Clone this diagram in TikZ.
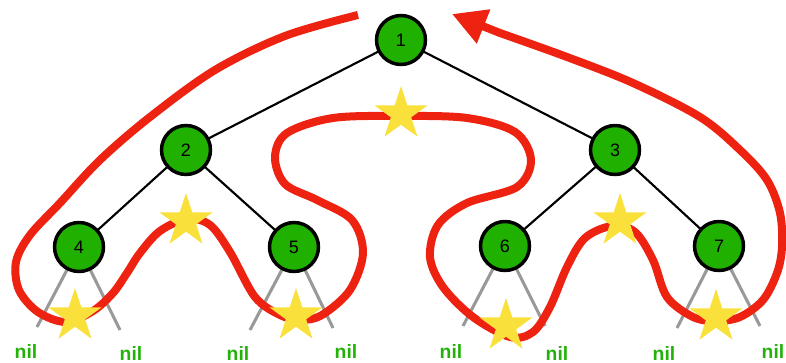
\documentclass[tikz,border=0pt]{standalone}
\usepackage{fontspec}
\setmainfont{Liberation Sans}
\usetikzlibrary{shapes.geometric,arrows.meta}
\definecolor{tgreen}{HTML}{20B000}
\definecolor{nilgreen}{HTML}{22B20A}
\definecolor{tred}{HTML}{EE2211}
\definecolor{tyellow}{HTML}{F9E03A}
\definecolor{tgray}{HTML}{999999}
\tikzset{
  tnode/.style={circle, draw=black, line width=2.6pt, fill=tgreen, minimum size=36.75pt, inner sep=0pt, font=\fontsize{13.5}{14}\selectfont},
  edge/.style={draw=black, line width=1.6pt},
  nilline/.style={draw=tgray, line width=2.3pt},
  niltext/.style={text=nilgreen, font=\fontsize{14.5}{15}\selectfont\bfseries, inner sep=0pt},
  ystar/.style={star, star points=5, star point ratio=2.618, fill=tyellow, draw=none, minimum size=42pt, inner sep=0pt},
  tour/.style={draw=tred, line width=6pt, line join=round}
}
\begin{document}
\begin{tikzpicture}[x=0.75pt,y=-0.75pt]
\useasboundingbox (0,0) rectangle (786,363);
% node positions
\coordinate (p1) at (401,40);
\coordinate (p2) at (186,150);
\coordinate (p3) at (615,150);
\coordinate (p4) at (79,247);
\coordinate (p5) at (294,247);
\coordinate (p6) at (505,246);
\coordinate (p7) at (719,246);
% nil line ends
\coordinate (e4a) at (37,327);
\coordinate (e4b) at (120,330);
\coordinate (e5a) at (250,330);
\coordinate (e5b) at (333,328);
\coordinate (e6a) at (463,326);
\coordinate (e6b) at (545,326);
\coordinate (e7a) at (677,328);
\coordinate (e7b) at (760,326);
\coordinate (tip) at (452,14);
% edges and nil lines
\draw[edge] (p1) -- (p2);
\draw[edge] (p1) -- (p3);
\draw[edge] (p2) -- (p4);
\draw[edge] (p2) -- (p5);
\draw[edge] (p3) -- (p6);
\draw[edge] (p3) -- (p7);
\foreach \n in {4,5,6,7}{
  \draw[nilline] (p\n) -- (e\n a);
  \draw[nilline] (p\n) -- (e\n b);
}
% tour path
\draw[tour, -{Triangle[length=25.5pt,width=26pt]}] plot[smooth, tension=0.55] coordinates {
(358,15) (285,36) (215,70) (150,117) (100,160) (60,203) (30,235) (16,262) (19,290) (38,312) (66,322) (93,311) (113,293) (127,273) (140,253) (160,231) (187,219) (210,225) (230,252) (255,297) (280,315) (300,320) (322,315) (350,290) (363,253) (352,220) (317,200) (285,184) (275,157) (287,133) (333,118) (400,116) (467,118) (515,132) (531,160) (517,187) (467,203) (438,225) (430,257) (443,287) (473,317) (510,337) (533,332) (550,307) (567,267) (585,238) (612,226) (635,232) (653,260) (667,297) (693,317) (716,321) (740,317) (763,300) (777,273) (782,247) (780,213) (767,180) (740,150) (700,117) (633,83) (567,57) (500,33)} -- (tip);
% stars
\node[ystar] (s1) at (401,114) {};
\node[ystar] (s2) at (186,221) {};
\node[ystar] (s3) at (75,316) {};
\node[ystar] (s4) at (296,316) {};
\node[ystar] (s5) at (506,326) {};
\node[ystar] (s6) at (620,221) {};
\node[ystar] (s7) at (716,317) {};
% tree nodes
\node[tnode] (n1) at (p1) {1};
\node[tnode] (n2) at (p2) {2};
\node[tnode] (n3) at (p3) {3};
\node[tnode] (n4) at (p4) {4};
\node[tnode] (n5) at (p5) {5};
\node[tnode] (n6) at (p6) {6};
\node[tnode] (n7) at (p7) {7};
% nil labels
\node[niltext] (l4a) at (26,351) {nil};
\node[niltext] (l4b) at (131,353.5) {nil};
\node[niltext] (l5a) at (238,353.5) {nil};
\node[niltext] (l5b) at (346,351) {nil};
\node[niltext] (l6a) at (451,351) {nil};
\node[niltext] (l6b) at (557,353.5) {nil};
\node[niltext] (l7a) at (664,353.5) {nil};
\node[niltext] (l7b) at (773,351) {nil};
\end{tikzpicture}
\end{document}
